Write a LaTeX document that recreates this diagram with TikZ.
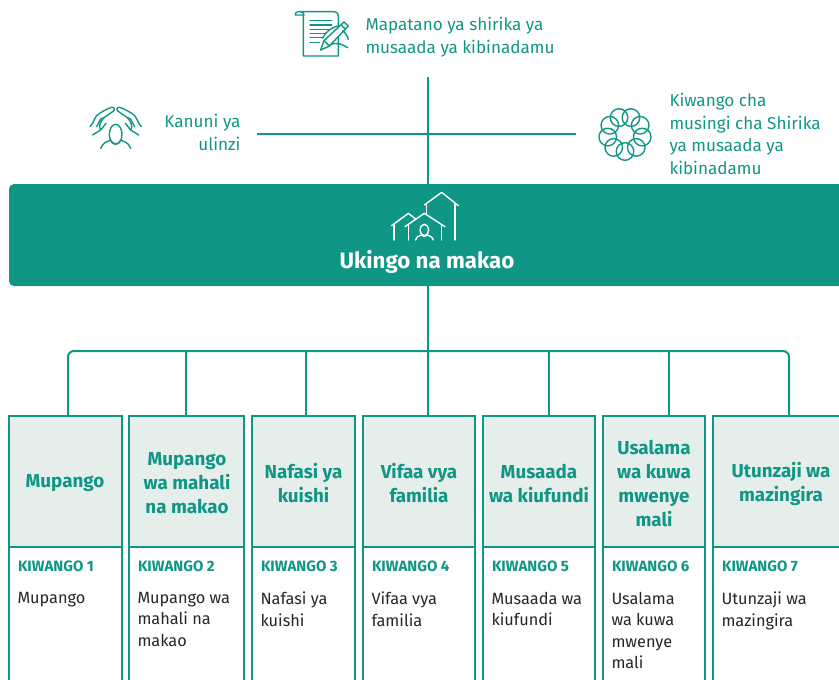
\documentclass[tikz,border=0pt]{standalone}
\usepackage{fontspec}
\usetikzlibrary{calc}
\setmainfont{Fira Sans}
\definecolor{teal1}{HTML}{109684}
\definecolor{pale}{HTML}{E6EEEC}
\tikzset{
  every node/.style={inner sep=0pt,outer sep=0pt,text=teal1},
  wire/.style={draw=teal1,line width=2pt},
  icon/.style={draw=teal1,line width=1.4pt,line cap=round,line join=round},
  iconw/.style={draw=white,line width=1.4pt,line cap=round,line join=round},
  head/.style={draw=teal1,fill=pale,line width=2pt,anchor=north west,minimum height=131pt},
  low/.style={draw=teal1,fill=white,line width=2pt,anchor=north west,minimum height=150pt},
  title/.style={font=\fontsize{18.8}{24}\selectfont\bfseries,align=center,text=teal1},
  kw/.style={font=\fontsize{15}{16}\selectfont\bfseries,anchor=west,text=teal1},
  body/.style={font=\fontsize{16.3}{21.5}\selectfont,align=left,anchor=north west,text=black!85},
  lab/.style={font=\fontsize{17.1}{22.4}\selectfont,text=teal1},
}
\begin{document}
\begin{tikzpicture}[x=1pt,y=-1pt]
\useasboundingbox (0,0) rectangle (839,680);
\clip (0,0) rectangle (839,680);
% coordinates of the connector junctions
\coordinate (top) at (428,77);
\coordinate (hl) at (257,134);
\coordinate (hr) at (576,134);
\coordinate (busc) at (428,351);
% banner
\node[fill=teal1,rounded corners=5pt,minimum width=860pt,minimum height=102pt,anchor=north west] (banner) at (9,184) {};
\node[font=\fontsize{22.3}{24}\selectfont\bfseries,text=white] (bannertext) at (427,262) {Ukingo na makao};
% columns
\foreach \n/\x/\w in {1/9/113,2/129/115,3/252/103,4/363/112,5/483/112,6/603/102,7/713/140}{
  \node[low,minimum width=\w pt] (l\n) at (\x,547) {};
  \node[head,minimum width=\w pt] (h\n) at (\x,416) {};
}
\foreach \n/\x in {1/68,2/186,3/306,4/428,5/549,6/669,7/789}{
  \coordinate (b\n) at (\x,351);
}
% connectors
\draw[wire] (top) -- (banner.north -| top);
\draw[wire] (hl) -- (hr);
\draw[wire] (banner.south -| busc) -- (h4.north -| busc);
\draw[wire,rounded corners=6pt] (h1.north -| b1) -- (b1) -- (b7) -- (h7.north -| b7);
\foreach \n in {2,3,5,6}{
  \draw[wire] (b\n) -- (h\n.north -| b\n);
}
% titles
\node[title] (t1) at (65,483.5) {Mupango};
\node[title] (t2) at (187,483.5) {Mupango\\wa mahali\\na makao};
\node[title] (t3) at (303.5,483.5) {Nafasi ya\\kuishi};
\node[title] (t4) at (419,483.5) {Vifaa vya\\familia};
\node[title] (t5) at (539,483.5) {Musaada\\wa kiufundi};
\node[title] (t6) at (654,483.5) {Usalama\\wa kuwa\\mwenye\\mali};
\node[title] (t7) at (781,483.5) {Utunzaji wa\\mazingira};
% standards
\foreach \n/\x in {1/18,2/138,3/261,4/372,5/492,6/612,7/722}{
  \node[kw] (k\n) at (\x,566) {KIWANGO \n};
}
\node[body] (d1) at (17.5,592) {Mupango};
\node[body] (d2) at (137.5,592) {Mupango wa\\mahali na\\makao};
\node[body] (d3) at (260.5,592) {Nafasi ya\\kuishi};
\node[body] (d4) at (371.5,592) {Vifaa vya\\familia};
\node[body] (d5) at (491.5,592) {Musaada wa\\kiufundi};
\node[body] (d6) at (611.5,592) {Usalama\\wa kuwa\\mwenye\\mali};
\node[body] (d7) at (721.5,592) {Utunzaji wa\\mazingira};
% top labels
\node[lab,align=left,anchor=west] (charter) at (365.5,37) {Mapatano ya shirika ya\\musaada ya kibinadamu};
\node[lab,align=right,anchor=east] (prot) at (240.5,132.5) {Kanuni ya\\ulinzi};
\node[lab,align=left,anchor=west] (core) at (669.5,134) {Kiwango cha\\musingi cha Shirika\\ya musaada ya\\kibinadamu};
% document icon
\begin{scope}[shift={(280,0)},scale=1/3]
  \draw[icon] (70,45) -- (70,168) -- (175,168) -- (175,50) .. controls (175,40) and (170,35) .. (160,35) -- (55,35) .. controls (48,35) and (45,40) .. (46,45) -- (72,45) .. controls (72,40) and (68,35) .. (60,35);
  \foreach \y/\e in {62/155,75/155,88/150,100/135,113/125,127/118}{\draw[icon] (90,\y) -- (\e,\y);}
  \draw[icon,fill=white] (122,150) -- (132,122) -- (192,66) -- (205,78) -- (148,138) -- cycle;
  \draw[icon] (183,75) -- (196,87) (132,122) -- (148,138);
  \draw[icon] (128,115) .. controls (140,90) and (155,85) .. (172,78);
  \draw[icon] (188,92) .. controls (198,100) and (203,110) .. (205,118);
  \draw[icon] (150,135) .. controls (170,125) and (185,132) .. (203,143);
\end{scope}
% hands icon
\begin{scope}[shift={(80,95)},scale=1/3]
  \foreach \s/\o in {1/0,-1/214}{
  \begin{scope}[shift={(\o,0)},xscale=\s]
    \draw[icon] (38,120) -- (62,105) .. controls (55,95) and (60,80) .. (72,68) -- (98,50) .. controls (106,46) and (104,36) .. (95,37) .. controls (85,40) and (60,52) .. (50,62) .. controls (42,72) and (40,85) .. (30,95);
    \draw[icon] (62,105) -- (78,85) (72,68) -- (62,72) -- (50,95);
  \end{scope}}
  \draw[icon] (107,118) ellipse (19 and 30);
  \draw[icon] (62,160) .. controls (68,144) and (80,139) .. (92,136) .. controls (98,150) and (116,150) .. (122,136) .. controls (134,139) and (146,144) .. (152,160);
\end{scope}
% ring icon
\foreach \a in {0,40,...,320}{
  \draw[icon] ($(625,134)+(90+\a:17.5)$) circle (8.8);
}
% house icon
\begin{scope}[shift={(380,185)},scale=1/3]
  \draw[iconw] (133,60) -- (185,22) -- (235,62);
  \draw[iconw] (140,56) -- (140,85);
  \draw[iconw] (225,55) -- (225,165);
  \draw[iconw] (75,125) -- (133,85) -- (195,125);
  \draw[iconw] (85,120) -- (85,165) (185,120) -- (185,165);
  \draw[iconw] (35,122) -- (85,85) -- (107,102);
  \draw[iconw] (42,118) -- (42,165);
  \draw[iconw] (133,135) ellipse (13 and 17);
  \draw[iconw] (107,165) .. controls (110,155) and (116,152) .. (124,150) .. controls (128,156) and (138,156) .. (142,150) .. controls (150,152) and (156,155) .. (160,165);
\end{scope}
\end{tikzpicture}
\end{document}
